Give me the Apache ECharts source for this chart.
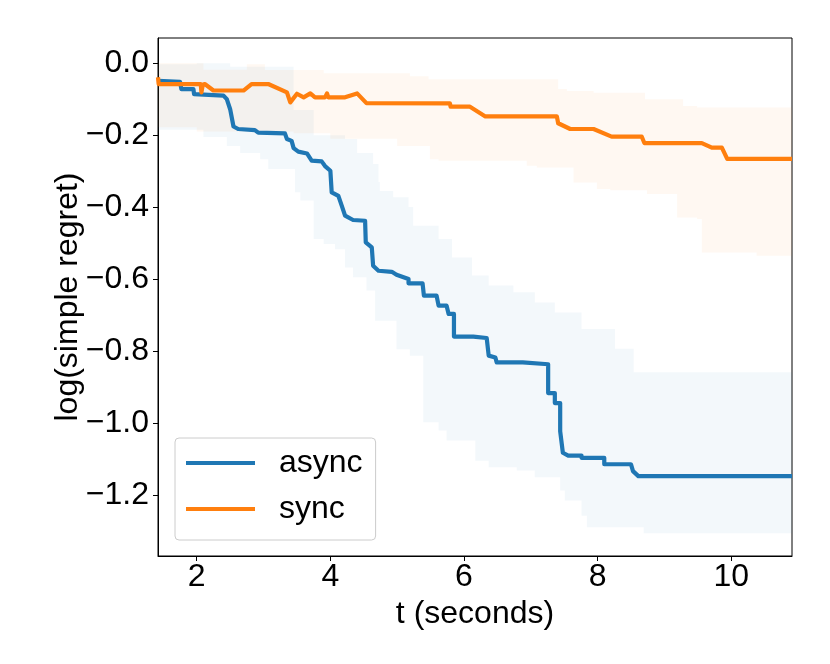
<!DOCTYPE html>
<html>
<head>
<meta charset="utf-8">
<script src="https://cdn.jsdelivr.net/npm/echarts@6/dist/echarts.min.js"></script>
<style>
html,body{margin:0;padding:0;background:#fff;}
#chart{width:830px;height:664px;}
</style>
</head>
<body>
<div id="chart"></div>
<script>
// ---- data (t in seconds, log simple regret) ----
var seriesNames = ['async', 'sync'];
var xTicks = [2, 4, 6, 8, 10];
var yTicks = [0, -0.2, -0.4, -0.6, -0.8, -1.0, -1.2];

var asyncMean = [
  [1.42,-0.049],[1.75,-0.052],[1.77,-0.072],[1.95,-0.072],[1.96,-0.086],[2.40,-0.090],[2.45,-0.100],
  [2.50,-0.128],[2.55,-0.176],[2.62,-0.183],[2.87,-0.186],[2.92,-0.193],[3.32,-0.195],[3.35,-0.211],
  [3.42,-0.216],[3.45,-0.236],[3.52,-0.246],[3.65,-0.251],[3.72,-0.271],[3.87,-0.273],[3.92,-0.286],
  [4.00,-0.299],[4.02,-0.359],[4.12,-0.369],[4.17,-0.396],[4.22,-0.424],[4.34,-0.436],[4.52,-0.438],
  [4.53,-0.498],[4.62,-0.512],[4.64,-0.563],[4.72,-0.577],[4.92,-0.580],[4.99,-0.588],[5.17,-0.600],
  [5.17,-0.612],[5.38,-0.612],[5.40,-0.646],[5.59,-0.646],[5.62,-0.674],[5.74,-0.674],[5.77,-0.697],
  [5.85,-0.697],[5.85,-0.760],[6.14,-0.760],[6.34,-0.764],[6.37,-0.813],[6.47,-0.818],[6.49,-0.832],
  [6.88,-0.832],[6.90,-0.837],[7.26,-0.837],[7.26,-0.917],[7.36,-0.917],[7.36,-0.945],[7.44,-0.945],
  [7.44,-1.023],[7.48,-1.083],[7.56,-1.091],[7.76,-1.091],[7.76,-1.097],[8.10,-1.097],[8.10,-1.115],
  [8.50,-1.115],[8.53,-1.134],[8.61,-1.148],[10.91,-1.148]
];

var syncMean = [
  [1.42,-0.039],[1.43,-0.058],[2.06,-0.058],[2.07,-0.081],[2.09,-0.060],[2.12,-0.058],[2.25,-0.076],
  [2.70,-0.076],[2.82,-0.058],[3.07,-0.058],[3.35,-0.081],[3.40,-0.109],[3.50,-0.085],[3.60,-0.095],
  [3.70,-0.084],[3.77,-0.095],[3.92,-0.095],[3.95,-0.084],[3.97,-0.095],[4.22,-0.095],[4.40,-0.084],
  [4.54,-0.111],[5.79,-0.112],[5.80,-0.121],[6.09,-0.121],[6.32,-0.148],[7.39,-0.148],[7.41,-0.167],
  [7.59,-0.183],[7.94,-0.183],[8.21,-0.204],[8.66,-0.204],[8.70,-0.222],[9.56,-0.222],[9.71,-0.235],
  [9.86,-0.235],[9.94,-0.266],[10.91,-0.266]
];

// band edges, step-wise: value holds from t until the next t
var asyncUpper = [
  [1.42,-0.003],[2.00,0.000],[2.50,-0.010],[3.45,-0.130],[3.75,-0.200],[4.22,-0.211],[4.40,-0.250],
  [4.64,-0.280],[4.72,-0.330],[4.74,-0.355],[4.94,-0.373],[5.17,-0.400],[5.24,-0.452],[5.62,-0.489],
  [5.82,-0.540],[6.12,-0.590],[6.37,-0.618],[6.74,-0.637],[7.06,-0.665],[7.36,-0.693],[7.76,-0.739],
  [8.26,-0.794],[8.54,-0.859],[10.91,-0.859]
];
var asyncLower = [
  [1.42,-0.185],[2.10,-0.205],[2.45,-0.230],[2.65,-0.250],[2.95,-0.267],[3.07,-0.294],[3.47,-0.359],
  [3.55,-0.382],[3.75,-0.489],[3.90,-0.503],[4.07,-0.517],[4.22,-0.568],[4.34,-0.595],[4.54,-0.632],
  [4.67,-0.716],[4.99,-0.795],[5.19,-0.813],[5.39,-0.998],[5.62,-1.021],[5.74,-1.049],[6.17,-1.105],
  [6.37,-1.123],[6.79,-1.132],[7.06,-1.151],[7.44,-1.188],[7.51,-1.216],[7.76,-1.258],[7.84,-1.290],
  [8.69,-1.307],[10.91,-1.307]
];
var syncUpper = [
  [1.42,0.000],[2.10,-0.018],[2.75,-0.003],[3.02,-0.019],[3.90,-0.028],[5.19,-0.036],[5.47,-0.045],
  [7.41,-0.072],[7.54,-0.077],[7.94,-0.082],[8.71,-0.100],[9.28,-0.119],[9.49,-0.123],[10.91,-0.123]
];
var syncLower = [
  [1.42,-0.178],[2.00,-0.190],[3.45,-0.195],[4.00,-0.210],[5.00,-0.230],[5.49,-0.267],[5.62,-0.271],
  [6.94,-0.285],[7.09,-0.290],[7.64,-0.332],[7.99,-0.350],[8.19,-0.353],[8.74,-0.364],[9.19,-0.429],
  [9.49,-0.433],[9.56,-0.526],[10.38,-0.535],[10.91,-0.535]
];

var colors = ['#1f77b4', '#ff7f0e'];
var FONT = '"Liberation Sans", Arial, sans-serif';
var FS = 32;

function stepCorners(edge) {
  var out = [];
  for (var i = 0; i < edge.length; i++) {
    if (i > 0) out.push([edge[i][0], edge[i - 1][1]]);
    out.push(edge[i]);
  }
  return out;
}

function bandSeries(upper, lower, color) {
  return {
    type: 'custom',
    silent: true,
    clip: true,
    z: 1,
    data: [[upper[0][0], upper[0][1]]],
    renderItem: function (params, api) {
      var up = stepCorners(upper);
      var lo = stepCorners(lower).reverse();
      var pts = [];
      up.forEach(function (p) { pts.push(api.coord(p)); });
      lo.forEach(function (p) { pts.push(api.coord(p)); });
      return {
        type: 'polygon',
        shape: { points: pts },
        style: { fill: color, stroke: null }
      };
    }
  };
}

var chart = echarts.init(document.getElementById('chart'), null, { renderer: 'canvas' });

function fmtY(v) {
  var s = Math.abs(v).toFixed(1);
  return (v < -1e-9 ? '\u2212' : '') + s;
}

chart.setOption({
  animation: false,
  backgroundColor: '#ffffff',
  grid: {
    left: 158, right: 38, top: 38, bottom: 108,
    show: true, borderColor: '#000000', borderWidth: 1, backgroundColor: 'transparent'
  },
  xAxis: {
    type: 'value',
    min: 1.42, max: 10.91,
    name: 't (seconds)',
    nameLocation: 'middle',
    nameGap: 42,
    nameTextStyle: { fontSize: FS, fontFamily: FONT, color: '#000' },
    axisLine: { show: true, onZero: false, lineStyle: { color: '#000', width: 1 } },
    axisTick: { show: true, inside: false, length: 5, lineStyle: { color: '#000' }, customValues: xTicks },
    axisLabel: { fontSize: FS, fontFamily: FONT, color: '#000', margin: 5, customValues: xTicks },
    splitLine: { show: false }
  },
  yAxis: {
    type: 'value',
    min: -1.37, max: 0.07,
    name: 'log(simple regret)',
    nameLocation: 'middle',
    nameMoveOverlap: false,
    nameGap: 74,
    nameTextStyle: { fontSize: FS, fontFamily: FONT, color: '#000' },
    axisLine: { show: true, onZero: false, lineStyle: { color: '#000', width: 1 } },
    axisTick: { show: true, inside: false, length: 5, lineStyle: { color: '#000' }, customValues: yTicks },
    axisLabel: { fontSize: FS, fontFamily: FONT, color: '#000', margin: 9, customValues: yTicks, formatter: fmtY },
    splitLine: { show: false }
  },
  legend: {
    orient: 'vertical',
    left: 175, top: 438,
    icon: 'rect',
    itemWidth: 69, itemHeight: 4,
    itemGap: 10,
    padding: [7, 13, 13, 11],
    borderColor: '#cccccc', borderWidth: 1, borderRadius: 4,
    backgroundColor: 'rgba(255,255,255,0.8)',
    textStyle: { fontSize: FS, fontFamily: FONT, color: '#000', lineHeight: 36, padding: [0, 0, 0, 19] },
    data: seriesNames
  },
  series: [
    bandSeries(asyncUpper, asyncLower, 'rgba(31,119,180,0.055)'),
    bandSeries(syncUpper, syncLower, 'rgba(255,127,14,0.055)'),
    {
      name: seriesNames[0], type: 'line', data: asyncMean, showSymbol: false, symbol: 'none',
      z: 3, color: colors[0],
      lineStyle: { width: 4.2, color: colors[0], join: 'round' }
    },
    {
      name: seriesNames[1], type: 'line', data: syncMean, showSymbol: false, symbol: 'none',
      z: 4, color: colors[1],
      lineStyle: { width: 4.2, color: colors[1], join: 'round' }
    }
  ]
});
</script>
</body>
</html>
